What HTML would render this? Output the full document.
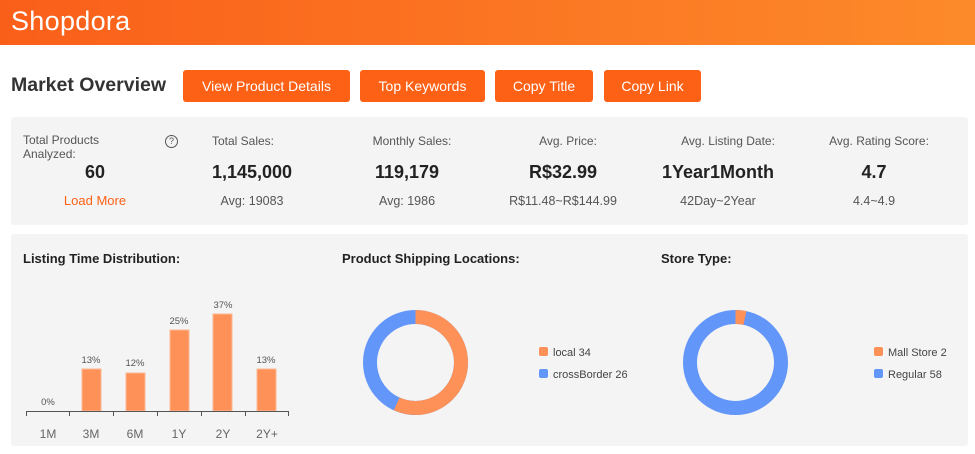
<!DOCTYPE html>
<html><head><meta charset="utf-8"><style>
*{margin:0;padding:0;box-sizing:border-box}
body{width:975px;height:454px;background:#fff;font-family:"Liberation Sans",Arial,sans-serif;position:relative;overflow:hidden}
.hdr{position:absolute;left:0;top:0;width:975px;height:45px;background:linear-gradient(90deg,#fa5f1a,#fc8a2a)}
.logo{position:absolute;left:11px;top:6px;color:#fff;font-size:27px;font-weight:normal;letter-spacing:0.3px}
.t{position:absolute;white-space:nowrap}
.btn{position:absolute;top:70px;height:32px;background:#fc6116;color:#fff;font-size:14px;border-radius:3px;text-align:center;line-height:32px}
.panel{position:absolute;left:11px;width:957px;background:#f4f4f4;border-radius:3px}
.lab{font-size:12px;color:#555;text-align:center}
.val{font-size:18px;font-weight:bold;color:#222;text-align:center}
.sub{font-size:12.5px;color:#555;text-align:center}
.h{font-size:13px;font-weight:bold;color:#222}
</style></head><body>
<div class="hdr"><div class="logo">Shopdora</div></div>
<div class="t" style="left:11px;top:74px;font-size:19.5px;font-weight:bold;color:#333">Market Overview</div>
<div class="btn" style="left:183px;width:167px">View Product Details</div>
<div class="btn" style="left:360px;width:125px">Top Keywords</div>
<div class="btn" style="left:495px;width:98px">Copy Title</div>
<div class="btn" style="left:604px;width:97px">Copy Link</div>
<div class="panel" style="top:117px;height:108px"></div>
<div class="t" style="left:23px;top:133px;font-size:12px;color:#555;line-height:14px">Total Products<br>Analyzed:</div>
<div class="t" style="left:165px;top:135px;width:13px;height:13px;border:1px solid #555;border-radius:50%;font-size:9px;text-align:center;line-height:11px;color:#555">?</div>
<div class="t val" style="left:45px;top:162px;width:100px">60</div>
<div class="t" style="left:45px;top:193px;width:100px;text-align:center;font-size:13px;color:#fc6116">Load More</div>
<div class="t lab" style="left:193px;top:134px;width:100px">Total Sales:</div>
<div class="t val" style="left:192px;top:162px;width:120px">1,145,000</div>
<div class="t sub" style="left:192px;top:194px;width:120px">Avg: 19083</div>
<div class="t lab" style="left:352px;top:134px;width:120px">Monthly Sales:</div>
<div class="t val" style="left:347px;top:162px;width:120px">119,179</div>
<div class="t sub" style="left:347px;top:194px;width:120px">Avg: 1986</div>
<div class="t lab" style="left:508px;top:134px;width:120px">Avg. Price:</div>
<div class="t val" style="left:503px;top:162px;width:120px">R$32.99</div>
<div class="t sub" style="left:493px;top:194px;width:140px">R$11.48~R$144.99</div>
<div class="t lab" style="left:658px;top:134px;width:140px">Avg. Listing Date:</div>
<div class="t val" style="left:648px;top:162px;width:140px">1Year1Month</div>
<div class="t sub" style="left:648px;top:194px;width:140px">42Day~2Year</div>
<div class="t lab" style="left:809px;top:134px;width:140px">Avg. Rating Score:</div>
<div class="t val" style="left:804px;top:162px;width:140px">4.7</div>
<div class="t sub" style="left:804px;top:194px;width:140px">4.4~4.9</div>
<div class="panel" style="top:234px;height:212px"></div>
<div class="t h" style="left:23px;top:251px">Listing Time Distribution:</div>
<div class="t h" style="left:342px;top:251px">Product Shipping Locations:</div>
<div class="t h" style="left:661px;top:251px">Store Type:</div>
<svg style="position:absolute;left:0;top:0" width="975" height="454" font-family="Liberation Sans,Arial,sans-serif">
<g fill="#fd9158" stroke="#fdb995" stroke-width="1">
<rect x="82" y="369" width="19" height="42"/><rect x="126" y="373" width="19" height="38"/>
<rect x="170" y="330" width="19" height="81"/><rect x="213" y="314" width="19" height="97"/>
<rect x="257" y="369" width="19" height="42"/></g>
<line x1="26" y1="411.5" x2="289" y2="411.5" stroke="#555"/>
<g stroke="#555"><line x1="26.5" y1="411" x2="26.5" y2="416"/><line x1="69.5" y1="411" x2="69.5" y2="416"/><line x1="113.5" y1="411" x2="113.5" y2="416"/><line x1="157.5" y1="411" x2="157.5" y2="416"/><line x1="201.5" y1="411" x2="201.5" y2="416"/><line x1="245.5" y1="411" x2="245.5" y2="416"/><line x1="288.5" y1="411" x2="288.5" y2="416"/></g>
<g font-size="9.5" fill="#555" text-anchor="middle">
<text x="48" y="405">0%</text><text x="91" y="363">13%</text><text x="135" y="366">12%</text><text x="179" y="324">25%</text><text x="223" y="308">37%</text><text x="266" y="363">13%</text></g>
<g font-size="12" fill="#666" text-anchor="middle">
<text x="48" y="438">1M</text><text x="91" y="438">3M</text><text x="135" y="438">6M</text><text x="179" y="438">1Y</text><text x="223" y="438">2Y</text><text x="267" y="438">2Y+</text></g>
<g transform="rotate(-90 415.5 362.5)">
<circle cx="415.5" cy="362.5" r="45.5" fill="none" stroke="#6396f9" stroke-width="14"/>
<circle cx="415.5" cy="362.5" r="45.5" fill="none" stroke="#fd9158" stroke-width="14" stroke-dasharray="162.1 400"/>
</g>
<g transform="rotate(-90 735.5 362.5)">
<circle cx="735.5" cy="362.5" r="45.5" fill="none" stroke="#6396f9" stroke-width="14"/>
<circle cx="735.5" cy="362.5" r="45.5" fill="none" stroke="#fd9158" stroke-width="14" stroke-dasharray="9.5 400"/>
</g>
<rect x="539" y="347" width="9" height="9" rx="2" fill="#fd9158"/><rect x="539" y="369" width="9" height="9" rx="2" fill="#6396f9"/>
<text x="553" y="356" font-size="11" fill="#444">local 34</text><text x="553" y="378" font-size="11" fill="#444">crossBorder 26</text>
<rect x="874" y="347" width="9" height="9" rx="2" fill="#fd9158"/><rect x="874" y="369" width="9" height="9" rx="2" fill="#6396f9"/>
<text x="888" y="356" font-size="11" fill="#444">Mall Store 2</text><text x="888" y="378" font-size="11" fill="#444">Regular 58</text>
</svg>
</body></html>
